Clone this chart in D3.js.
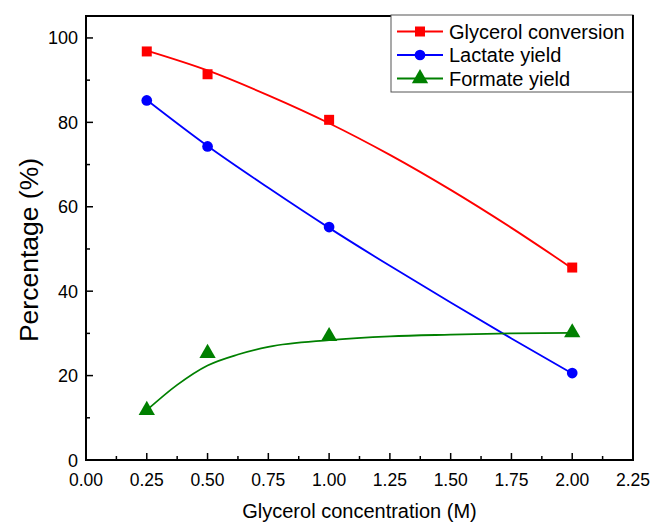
<!DOCTYPE html>
<html>
<head>
<meta charset="utf-8">
<script src="https://cdn.jsdelivr.net/npm/d3@7"></script>
<style>
  body { margin: 0; background: #fff; }
  text { font-family: Arial, "Liberation Sans", sans-serif; }
</style>
</head>
<body>
<svg id="chart" width="652" height="523"></svg>
<script>
// measured points
var conc = [0.25, 0.5, 1.0, 2.0];
var glycerolConversion = [96.8, 91.4, 80.6, 45.6];
var lactateYield = [85.2, 74.3, 55.2, 20.6];
var formateYield = [11.8, 25.3, 29.3, 30.2];

// fitted curves
var fitX = [0.25, 0.5, 0.75, 1.0, 1.25, 1.5, 1.75, 2.0];
var glycerolFit = [97.0, 92.3, 86.4, 79.8, 72.3, 64.0, 55.0, 45.4];
var lactateFit = [85.3, 74.4, 64.5, 55.0, 46.0, 37.3, 28.8, 20.5];
var formateFitX = [0.25, 0.375, 0.5, 0.625, 0.75, 1.0, 1.25, 1.5, 1.75, 2.0];
var formateFit = [11.8, 17.8, 22.4, 25.0, 26.8, 28.4, 29.3, 29.7, 30.0, 30.1];

var xTicks = [0, 0.25, 0.5, 0.75, 1.0, 1.25, 1.5, 1.75, 2.0, 2.25];
var yTicks = [0, 20, 40, 60, 80, 100];

var seriesNames = ["Glycerol conversion", "Lactate yield", "Formate yield"];
var seriesColors = ["#ff0000", "#0000ff", "#008000"];

function draw() {
    var svg = d3.select("#chart");
    var pLeft = 86, pRight = 633, pTop = 16, pBottom = 460;

    var xs = d3.scaleLinear().domain([0, 2.25]).range([pLeft, pRight]);
    var ys = d3.scaleLinear().domain([0, 105.2]).range([pBottom, pTop]);

    // frame
    svg.append("rect")
        .attr("x", pLeft).attr("y", pTop)
        .attr("width", pRight - pLeft).attr("height", pBottom - pTop)
        .attr("fill", "none").attr("stroke", "#000").attr("stroke-width", 2);

    // ticks (inward)
    var minorX = d3.range(0.125, 2.25, 0.25);
    var minorY = d3.range(10, 105, 20);

    var g = svg.append("g");
    g.selectAll(".xt").data(xTicks.slice(1, -1)).enter().append("line")
        .attr("x1", function(d) { return xs(d); }).attr("x2", function(d) { return xs(d); })
        .attr("y1", pBottom).attr("y2", pBottom - 7)
        .attr("stroke", "#000").attr("stroke-width", 1.5);
    g.selectAll(".xm").data(minorX).enter().append("line")
        .attr("x1", function(d) { return xs(d); }).attr("x2", function(d) { return xs(d); })
        .attr("y1", pBottom).attr("y2", pBottom - 4)
        .attr("stroke", "#000").attr("stroke-width", 1.5);
    g.selectAll(".yt").data(yTicks.slice(1)).enter().append("line")
        .attr("x1", pLeft).attr("x2", pLeft + 7)
        .attr("y1", function(d) { return ys(d); }).attr("y2", function(d) { return ys(d); })
        .attr("stroke", "#000").attr("stroke-width", 1.5);
    g.selectAll(".ym").data(minorY).enter().append("line")
        .attr("x1", pLeft).attr("x2", pLeft + 4)
        .attr("y1", function(d) { return ys(d); }).attr("y2", function(d) { return ys(d); })
        .attr("stroke", "#000").attr("stroke-width", 1.5);

    // tick labels
    g.selectAll(".xl").data(xTicks).enter().append("text")
        .attr("x", function(d) { return xs(d); })
        .attr("y", 486)
        .attr("text-anchor", "middle")
        .style("font-size", "17.5px")
        .text(function(d) { return d.toFixed(2); });
    g.selectAll(".yl").data(yTicks).enter().append("text")
        .attr("x", 78)
        .attr("y", function(d) { return ys(d) + 6.5; })
        .attr("text-anchor", "end")
        .style("font-size", "18px")
        .text(function(d) { return d; });

    // axis titles
    svg.append("text")
        .attr("x", (pLeft + pRight) / 2).attr("y", 518)
        .attr("text-anchor", "middle")
        .style("font-size", "20px")
        .text("Glycerol concentration (M)");
    svg.append("text")
        .attr("transform", "translate(38,250) rotate(-90)")
        .attr("text-anchor", "middle")
        .style("font-size", "26.5px")
        .text("Percentage (%)");

    // fit lines
    var line = d3.line().curve(d3.curveMonotoneX)
        .x(function(d) { return xs(d[0]); })
        .y(function(d) { return ys(d[1]); });

    var fits = [d3.zip(fitX, glycerolFit), d3.zip(fitX, lactateFit), d3.zip(formateFitX, formateFit)];
    fits.forEach(function(f, i) {
        svg.append("path").datum(f)
            .attr("d", line)
            .attr("fill", "none")
            .attr("stroke", seriesColors[i])
            .attr("stroke-width", 1.8);
    });

    // markers
    var shapes = [d3.symbolSquare, d3.symbolCircle, d3.symbolTriangle];
    var sizes = [100, 90, 115];
    var values = [glycerolConversion, lactateYield, formateYield];
    values.forEach(function(vals, i) {
        svg.append("g").selectAll("path").data(d3.zip(conc, vals)).enter().append("path")
            .attr("d", d3.symbol().type(shapes[i]).size(sizes[i]))
            .attr("transform", function(d) { return "translate(" + xs(d[0]) + "," + ys(d[1]) + ")"; })
            .attr("fill", seriesColors[i]);
    });

    // legend
    var lg = svg.append("g");
    lg.append("rect")
        .attr("x", 391).attr("y", 15).attr("width", 242).attr("height", 77)
        .attr("fill", "#fff").attr("stroke", "#555").attr("stroke-width", 1);
    lg.append("line").attr("x1", 633).attr("x2", 633).attr("y1", 15).attr("y2", 93)
        .attr("stroke", "#000").attr("stroke-width", 2);
    seriesNames.forEach(function(name, i) {
        var yy = 31.5 + i * 23.5;
        lg.append("line").attr("x1", 397).attr("x2", 443).attr("y1", yy).attr("y2", yy)
            .attr("stroke", seriesColors[i]).attr("stroke-width", 1.8);
        lg.append("path")
            .attr("d", d3.symbol().type(shapes[i]).size(sizes[i]))
            .attr("transform", "translate(420," + yy + ")")
            .attr("fill", seriesColors[i]);
        lg.append("text").attr("x", 449).attr("y", yy + 7)
            .style("font-size", "20px")
            .text(name);
    });
}

draw();
</script>
</body>
</html>
